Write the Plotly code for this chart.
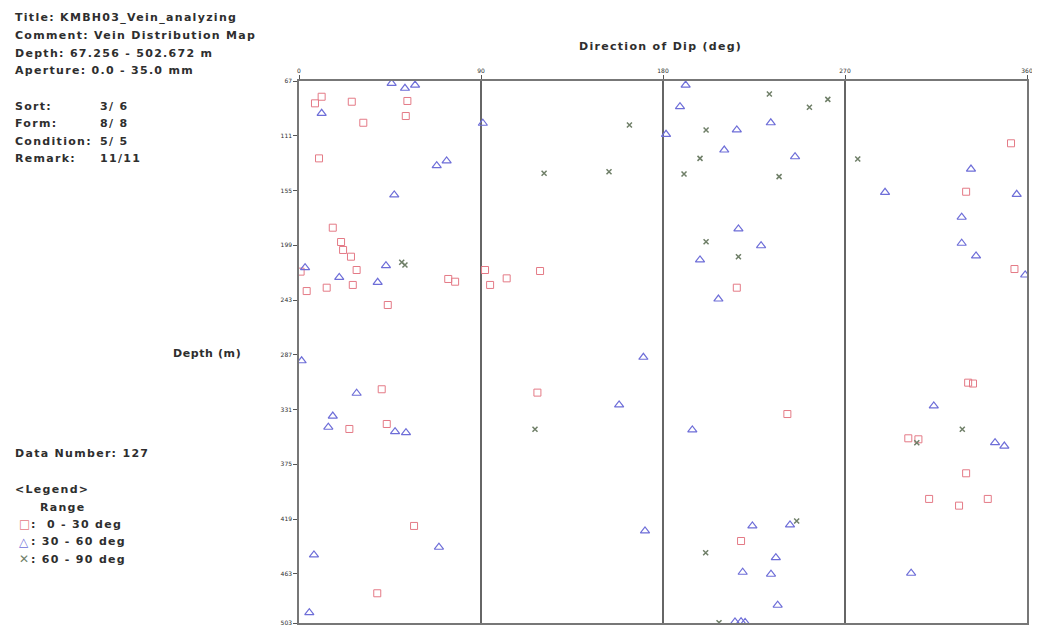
import plotly.graph_objects as go

# ---- data (dip direction in deg, depth in m) ----
red_dir = [11.2, 7.9, 26.1, 53.6, 52.8, 31.8, 9.9, 16.7, 20.8, 21.8, 25.7, 28.5, 0.8, 3.8, 13.7,
           26.6, 43.9, 73.8, 77.2, 92.0, 94.5, 102.7, 119.2, 352.1, 329.9, 216.5, 353.8, 40.9,
           43.4, 24.9, 117.9, 56.9, 38.7, 241.5, 330.9, 333.3, 301.3, 306.3, 329.9, 311.6,
           326.4, 340.6, 218.6]
red_depth = [79.9, 85.2, 83.9, 83.3, 95.4, 100.8, 129.4, 185.1, 196.6, 203.0, 208.4, 219.1, 220.4,
             236.0, 233.3, 231.1, 247.2, 226.3, 228.5, 219.1, 231.1, 225.8, 219.9, 117.3, 156.2,
             233.3, 218.3, 314.9, 342.8, 346.8, 317.6, 424.7, 478.8, 334.8, 309.6, 310.3, 354.3,
             355.1, 382.4, 403.0, 408.4, 403.0, 436.8]

blue_dir = [45.8, 52.4, 57.4, 11.2, 90.9, 68.1, 73.0, 47.1, 3.0, 19.9, 38.9, 43.0, 181.5, 191.2,
            188.4, 216.5, 233.3, 210.3, 245.3, 332.3, 289.8, 354.9, 327.7, 217.3, 228.5, 198.3,
            327.7, 334.8, 359.1, 207.4, 1.3, 170.3, 28.5, 16.7, 14.5, 47.5, 52.9, 158.3, 7.4,
            69.2, 5.1, 171.1, 194.5, 313.9, 344.2, 348.8, 224.2, 242.8, 235.8, 219.4, 233.4,
            236.7, 302.7, 215.6, 218.6, 220.6]
blue_depth = [69.1, 73.1, 70.5, 93.2, 101.2, 135.3, 131.5, 158.8, 217.2, 225.0, 229.0, 215.6, 110.1,
              70.5, 87.9, 106.6, 100.8, 122.7, 128.1, 138.0, 156.7, 158.3, 176.7, 186.1, 199.6,
              211.0, 197.6, 207.8, 223.1, 242.4, 292.0, 289.2, 318.1, 336.4, 345.4, 349.0, 349.8,
              327.5, 448.0, 441.8, 494.4, 428.7, 347.6, 328.3, 357.8, 360.5, 424.7, 423.9, 450.2,
              461.9, 463.5, 488.4, 462.7, 501.8, 501.6, 502.2]

gray_dir = [50.8, 52.4, 163.4, 121.2, 153.3, 232.6, 261.5, 252.4, 201.3, 198.3, 190.4, 237.4,
            276.3, 201.3, 217.3, 116.7, 328.0, 305.5, 201.1, 207.7, 246.1]
gray_depth = [212.9, 215.1, 102.6, 141.4, 140.1, 77.7, 82.0, 88.4, 106.6, 129.4, 142.0, 144.1,
              129.9, 196.4, 208.4, 347.0, 347.0, 357.8, 446.2, 502.4, 420.7]

x_ticks = [0, 90, 180, 270, 360]
x_ticktext = ["0", "90", "180", "270", "360"]
y_ticks = [67.256, 111.256, 155.256, 199.256, 243.256, 287.256, 331.256, 375.256, 419.256,
           463.256, 502.672]
y_ticktext = ["67", "111", "155", "199", "243", "287", "331", "375", "419", "463", "503"]
depth_range = [67.256, 502.672]

info_labels = ["Sort:", "Form:", "Condition:", "Remark:"]
info_values = ["3/ 6", "8/ 8", "5/ 5", "11/11"]
header_lines = ["Title: KMBH03_Vein_analyzing", "Comment: Vein Distribution Map",
                "Depth: 67.256 - 502.672 m", "Aperture: 0.0 - 35.0 mm"]
legend_ranges = [":  0 - 30 deg", ": 30 - 60 deg", ": 60 - 90 deg"]

# page body has an 8px margin; figure coordinates = screen coordinates - 8
OFF = 8
W, H = 1032, 625
PL, PR, PT, PB = 299, 1027, 81, 623          # plot box on screen
L, T = PL - OFF, PT - OFF
R, B = W - (PR - OFF), H - (PB - OFF)
PW, PH = W - L - R, H - T - B


def px(x):
    return (x - OFF - L) / PW


def py(y):
    return (H - B - (y - OFF)) / PH


FONT = "DejaVu Sans, Verdana, sans-serif"
TXT = "#2e2e2e"
RED, BLUE, GRAY = "#e47a86", "#6e6ed8", "#6f7f68"

fig = go.Figure()
fig.add_trace(go.Scatter(x=red_dir, y=red_depth, mode="markers", name="0 - 30 deg",
                         marker=dict(symbol="square-open", size=7, color=RED,
                                     line=dict(width=1))))
fig.add_trace(go.Scatter(x=blue_dir, y=blue_depth, mode="markers", name="30 - 60 deg",
                         marker=dict(symbol="triangle-up-open", size=8, color=BLUE,
                                     line=dict(width=1.2))))
fig.add_trace(go.Scatter(x=gray_dir, y=gray_depth, mode="markers", name="60 - 90 deg",
                         marker=dict(symbol="x-thin-open", size=5, color=GRAY,
                                     line=dict(width=1.5))))

fig.update_layout(
    width=W, height=H, margin=dict(l=L, r=R, t=T, b=B),
    paper_bgcolor="white", plot_bgcolor="white", showlegend=False,
    font=dict(family=FONT, color=TXT),
    xaxis=dict(range=[0, 360], side="top", tickvals=x_ticks, ticktext=x_ticktext,
               tickfont=dict(size=6, color=TXT), ticks="outside", ticklen=4, tickcolor="#555",
               ticklabeloverflow="allow",
               showgrid=True, gridcolor="#666", gridwidth=1.5, zeroline=False,
               showline=True, linecolor="#777", linewidth=1.5, mirror=True, automargin=False),
    yaxis=dict(range=[depth_range[1], depth_range[0]], tickvals=y_ticks, ticktext=y_ticktext,
               tickfont=dict(size=6, color=TXT), ticks="outside", ticklen=4, tickcolor="#555",
               ticklabeloverflow="allow",
               showgrid=False, zeroline=False, showline=True, linecolor="#777", linewidth=1.5,
               mirror=True, automargin=False),
)

ann = []


def add_text(text, x, y, size=11, xanchor="left", ls=1.3):
    ann.append(dict(text="<span style='letter-spacing:%.1fpx'><b>%s</b></span>" % (ls, text),
                    x=px(x), y=py(y), xref="paper", yref="paper", showarrow=False,
                    xanchor=xanchor, yanchor="middle",
                    font=dict(size=size, color=TXT, family=FONT)))


def add_sym(sym, color, x, y):
    ann.append(dict(text=sym, x=px(x), y=py(y), xref="paper", yref="paper", showarrow=False,
                    xanchor="left", yanchor="middle", font=dict(size=12, color=color, family=FONT)))


for i, line in enumerate(header_lines):
    add_text(line, 13, 18 + 17.6 * i)
for i, (k, v) in enumerate(zip(info_labels, info_values)):
    add_text(k, 13, 106 + 17.6 * i)
    add_text(v, 98, 106 + 17.6 * i)
add_text("Data Number: 127", 13, 453)
add_text("&lt;Legend&gt;", 13, 489)
add_text("Range", 38, 507)
for i, (sym, col, txt) in enumerate(zip(["□", "△", "✕"], [RED, BLUE, GRAY], legend_ranges)):
    add_sym(sym, col, 17, 524 + 17.5 * i)
    add_text(txt, 29, 524 + 17.5 * i)
add_text("Direction of Dip (deg)", 660, 47, xanchor="center")
add_text("Depth (m)", 207, 353, xanchor="center", ls=0.6)

fig.update_layout(annotations=ann)
fig.write_html("out.html")
